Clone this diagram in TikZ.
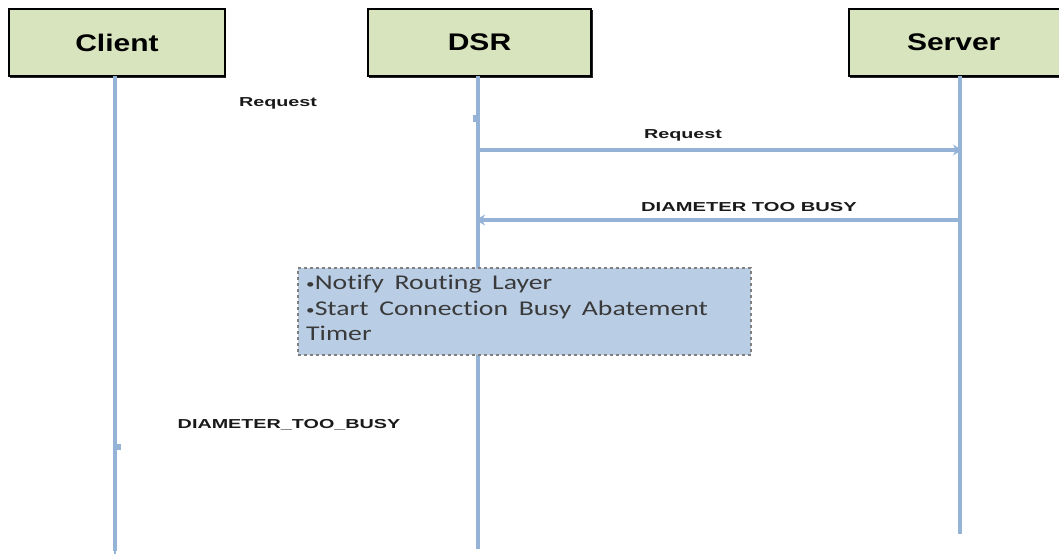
\documentclass[tikz,border=0pt]{standalone}
\usepackage{fontspec}
\setmainfont{Liberation Sans}
\newfontfamily\hdrfont[FakeStretch=1.25]{Liberation Sans}
\newfontfamily\notefont[FakeStretch=1.32,Ligatures=NoCommon,WordSpace=1.7]{Carlito}
\usetikzlibrary{arrows.meta}
\definecolor{hdrfill}{HTML}{D7E4BD}
\definecolor{lifeblue}{HTML}{95B3D7}
\definecolor{notefill}{HTML}{B9CDE5}
\definecolor{noteedge}{HTML}{7F7F7F}
\definecolor{notetextc}{HTML}{3A3A3A}
\newcommand{\smbul}{{\fontsize{13}{13}\selectfont\raisebox{1pt}{•}}}
\tikzset{
  hdr/.style={draw=black, line width=2pt, fill=hdrfill, minimum height=67pt, anchor=north west, inner sep=0pt,
    font=\hdrfont\bfseries\fontsize{24}{28}\selectfont},
  life/.style={draw=lifeblue, line width=3.5pt},
  msg/.style={draw=lifeblue, line width=3.5pt, -{Stealth[length=9pt,width=11pt]}},
  lbl/.style={font=\bfseries\fontsize{13}{15}\selectfont, inner sep=0pt, text=black!90},
  note/.style={draw=noteedge, dashed, line width=1.6pt, fill=notefill, anchor=north west, inner sep=0pt,
    minimum width=453pt, minimum height=87pt},
  notetxt/.style={font=\notefont\fontsize{21}{25.5}\selectfont, text=notetextc, anchor=north west, align=left, inner sep=0pt},
  tick/.style={draw=lifeblue, line width=4pt}
}
\begin{document}
\begin{tikzpicture}[x=1pt,y=-1pt]
\useasboundingbox (0,0) rectangle (1059,554);
\clip (0,0) rectangle (1059,554);
% header shadows
\fill[black!85] (10,10) rectangle (226,78);
\fill[black!85] (369,10) rectangle (593,78);
\fill[black!85] (850,10) rectangle (1075,78);
% headers
\node[hdr, minimum width=216pt] (client) at (8,8) {Client};
\node[hdr, minimum width=223pt] (dsr) at (367,8) {DSR};
\node[hdr, minimum width=225pt, text width=225pt] (server) at (848,8) {\hspace*{58pt}Server};
% lifeline ends
\coordinate (cEnd) at (115,551);
\coordinate (dEnd) at (478,549);
\coordinate (sEnd) at (960,534);
\coordinate (cTop) at (115,76);
\coordinate (dTop) at (478,76);
\coordinate (sTop) at (960,76);
\draw[life] (cTop) -- (cEnd);
\draw[life] (dTop) -- (dEnd);
\draw[life] (sTop) -- (sEnd);
\draw[draw=lifeblue, line width=1.5pt] (cEnd) -- (115,554);
% messages
\coordinate (m1s) at (478,150);
\coordinate (m1e) at (962,150);
\coordinate (m2s) at (960,220);
\coordinate (m2e) at (476,220);
\draw[msg] (m1s) -- (m1e);
\draw[msg] (m2s) -- (m2e);
% labels
\node[lbl] (req0) at (278,103) {\scalebox{1.52}[1]{Request}};
\node[lbl] (req1) at (683,135) {\scalebox{1.52}[1]{Request}};
\node[lbl] (busy1) at (749,207) {\scalebox{1.55}[1]{DIAMETER TOO BUSY}};
\node[lbl] (busy2) at (289,425) {\scalebox{1.52}[1]{DIAMETER\_TOO\_BUSY}};
% small ticks
\coordinate (t1) at (475,115);
\coordinate (t1b) at (475,122);
\draw[tick] (t1) -- (t1b);
\coordinate (t2) at (119,444);
\coordinate (t2b) at (119,450);
\draw[tick] (t2) -- (t2b);
% note
\node[note] (notebox) at (297,267) {};
\node[notetxt] (notetext) at (306,275) {\smbul Notify Routing Layer\\\smbul Start Connection Busy Abatement\\Timer};
\end{tikzpicture}
\end{document}
